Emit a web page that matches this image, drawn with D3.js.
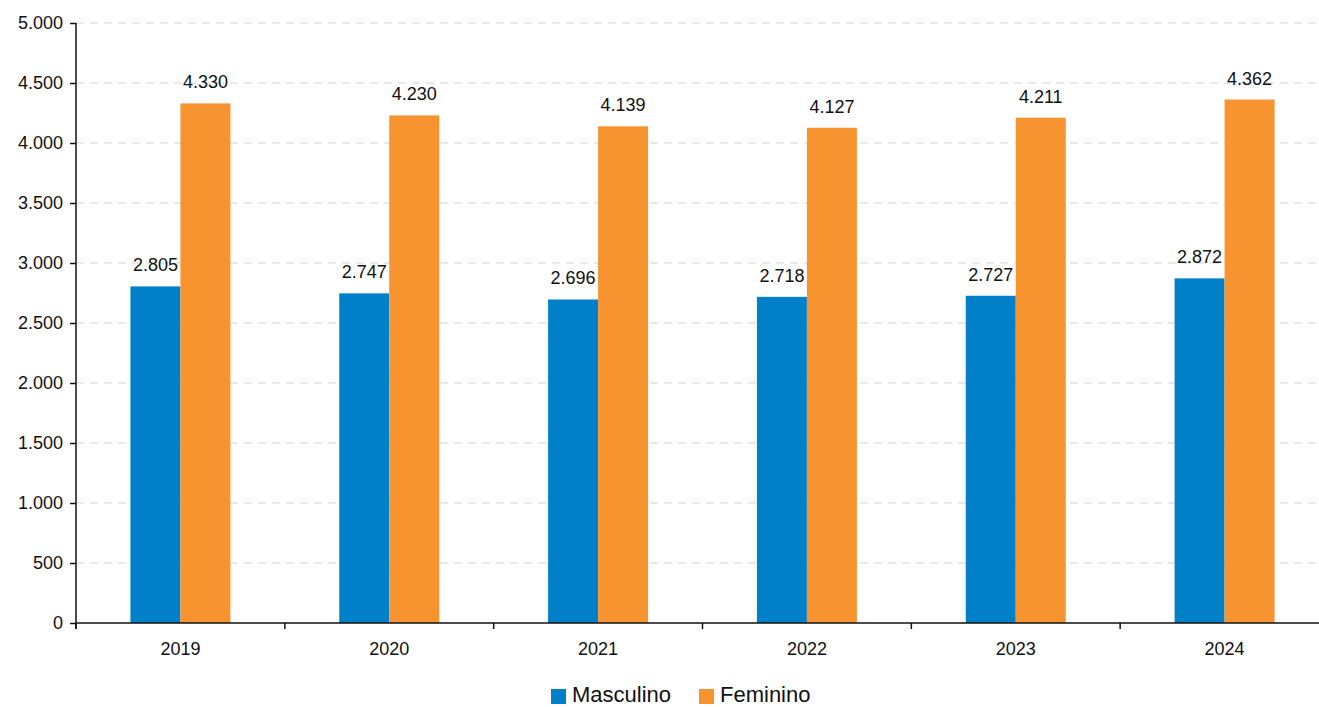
<!DOCTYPE html>
<html><head><meta charset="utf-8">
<script src="https://cdn.jsdelivr.net/npm/d3@7"></script>
<style>
html,body{margin:0;padding:0;background:#fff;}
svg text{font-family:"Liberation Sans Narrow","Liberation Sans",Arial,sans-serif;fill:#111;}
</style></head>
<body>
<svg id="c" width="1319" height="707"></svg>
<script>
const years = ["2019","2020","2021","2022","2023","2024"];
const masculino = [2805, 2747, 2696, 2718, 2727, 2872];
const feminino = [4330, 4230, 4139, 4127, 4211, 4362];
const seriesNames = ["Masculino","Feminino"];
const seriesColors = ["#0080C9","#F7942F"];
const yTicks = [0,500,1000,1500,2000,2500,3000,3500,4000,4500,5000];

const svg = d3.select("#c");
const x0 = 76, x1 = 1329, yTop = 23, yBot = 623;
const fmt = v => d3.format(",")(v).replace(/,/g,".");

const x = d3.scaleBand().domain(years).range([x0,x1]);
const xs = d3.scaleBand().domain(seriesNames).range([0,100]);
const y = d3.scaleLinear().domain([0,5000]).range([yBot,yTop]);

// gridlines
svg.append("g").selectAll("line").data(yTicks.filter(d=>d>0)).join("line")
  .attr("x1",x0).attr("x2",1319).attr("y1",d=>y(d)).attr("y2",d=>y(d))
  .attr("stroke","#d4d4d4").attr("stroke-width",1.2).attr("stroke-dasharray","8,6");

const data = years.map((yr,i)=>({year:yr, vals:[masculino[i], feminino[i]]}));

const groups = svg.append("g").selectAll("g").data(data).join("g")
  .attr("transform",d=>`translate(${x(d.year)+x.bandwidth()/2-50},0)`);
groups.selectAll("rect").data(d=>d.vals.map((v,j)=>({v,name:seriesNames[j],j}))).join("rect")
  .attr("x",d=>xs(d.name)).attr("width",xs.bandwidth())
  .attr("y",d=>y(d.v)).attr("height",d=>yBot-y(d.v))
  .attr("fill",d=>seriesColors[d.j]);
groups.selectAll("text").data(d=>d.vals.map((v,j)=>({v,name:seriesNames[j],j}))).join("text")
  .attr("x",d=>xs(d.name)+xs.bandwidth()/2).attr("y",d=>y(d.v)-15)
  .attr("text-anchor","middle").attr("font-size",18).text(d=>fmt(d.v));

// y axis
const yAxis = d3.axisLeft(y).tickValues(yTicks).tickFormat(fmt).tickSize(6).tickPadding(7);
const ga = svg.append("g").attr("transform",`translate(${x0},0)`).call(yAxis);
ga.selectAll("path,line").attr("stroke","#111").attr("stroke-width",1.5);
ga.select(".domain").attr("d",`M0,${yTop}V${yBot+6}`);
ga.selectAll("text").attr("font-size",18).attr("font-family",null).attr("fill","#111");

// x axis
const gx = svg.append("g").attr("transform",`translate(0,${yBot})`);
gx.append("line").attr("x1",x0).attr("x2",x1).attr("stroke","#111").attr("stroke-width",1.5);
const bounds = years.map(yr=>x(yr)).concat([x1]);
gx.selectAll("line.t").data(bounds).join("line").attr("class","t")
  .attr("x1",d=>d).attr("x2",d=>d).attr("y1",0).attr("y2",6).attr("stroke","#111").attr("stroke-width",1.5);
gx.selectAll("text").data(years).join("text")
  .attr("x",d=>x(d)+x.bandwidth()/2).attr("y",32).attr("text-anchor","middle")
  .attr("font-size",18).text(d=>d);

// legend
const lg = svg.append("g");
const legX = [551, 699];
seriesNames.forEach((n,i)=>{
  lg.append("rect").attr("x",legX[i]).attr("y",689).attr("width",15).attr("height",15).attr("fill",seriesColors[i]);
  lg.append("text").attr("x",legX[i]+21).attr("y",702).attr("font-size",22).text(n);
});
</script>
</body></html>
